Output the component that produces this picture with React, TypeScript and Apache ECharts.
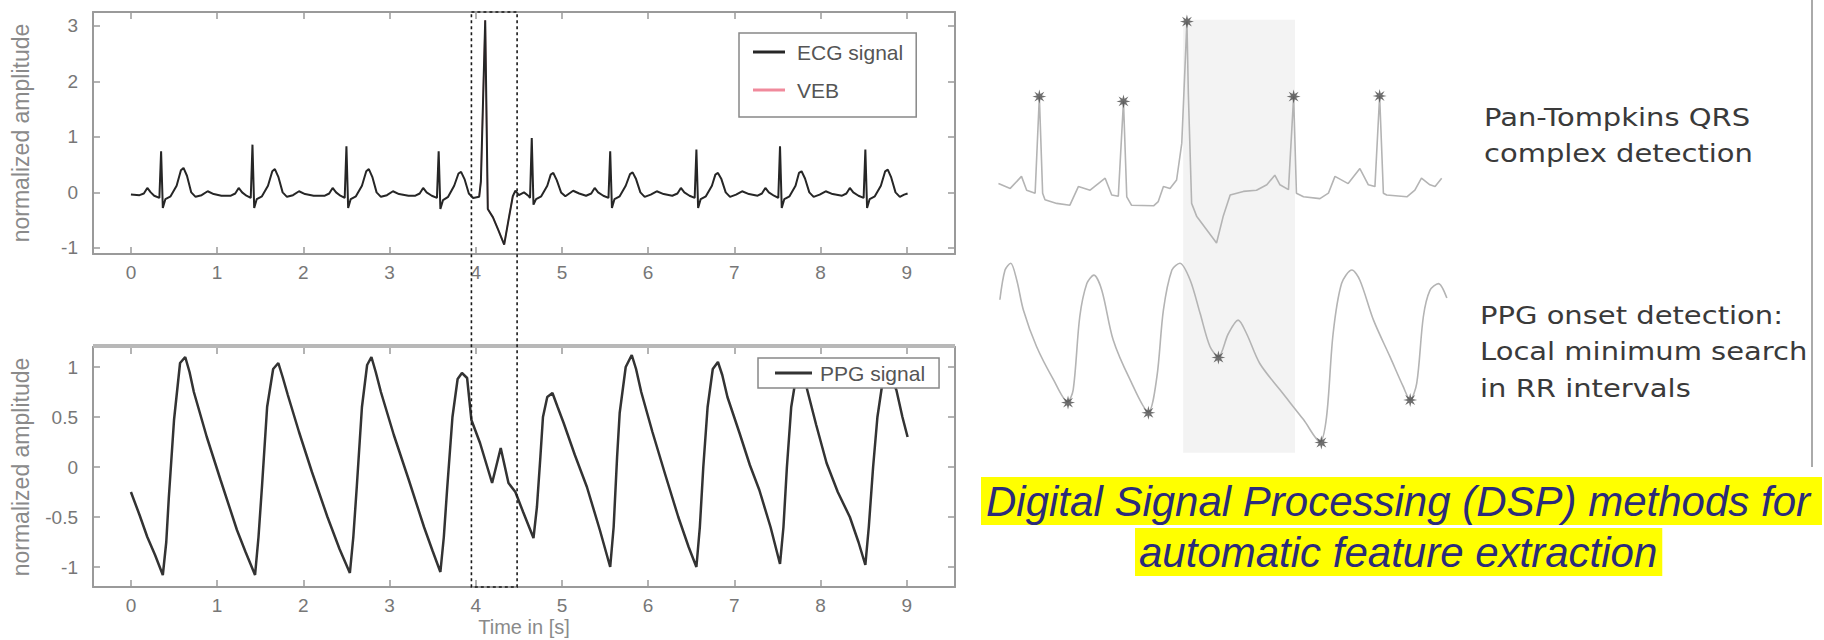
import React, { useEffect, useRef } from "react";
import * as echarts from "echarts";

// ---------- left panel data ----------
const timeTicks = [0, 1, 2, 3, 4, 5, 6, 7, 8, 9];
const timeRange = [-0.44, 9.56];
const ecgTicks = [-1, 0, 1, 2, 3];
const ecgRange = [-1.11, 3.25];
const ppgTicks = [-1, -0.5, 0, 0.5, 1];
const ppgRange = [-1.2, 1.2];

const ecgSignal: [number, number][] = [
  [0.0, -0.04], [0.1, -0.05], [0.15, -0.02], [0.19, 0.08], [0.23, 0.0], [0.27, -0.06], [0.33, -0.1], [0.35, 0.74], [0.37, -0.28], [0.4, -0.12], [0.46, -0.07], [0.53, 0.12], [0.58, 0.4], [0.61, 0.44], [0.65, 0.3], [0.7, 0.0], [0.75, -0.08], [0.82, -0.05], [0.89, 0.02], [0.96, -0.03], [1.05, -0.06],
  [1.16, -0.06], [1.21, -0.02], [1.25, 0.08], [1.29, 0.0], [1.34, -0.06], [1.39, -0.1], [1.41, 0.86], [1.43, -0.28], [1.46, -0.12], [1.52, -0.07], [1.59, 0.12], [1.64, 0.38], [1.67, 0.42], [1.71, 0.28], [1.76, 0.0], [1.81, -0.08], [1.88, -0.05], [1.95, 0.02], [2.02, -0.03], [2.12, -0.06],
  [2.25, -0.06], [2.3, -0.02], [2.34, 0.08], [2.38, 0.0], [2.43, -0.06], [2.48, -0.1], [2.5, 0.83], [2.52, -0.28], [2.55, -0.12], [2.61, -0.07], [2.68, 0.12], [2.73, 0.38], [2.76, 0.42], [2.8, 0.28], [2.85, 0.0], [2.9, -0.08], [2.97, -0.05], [3.04, 0.02], [3.11, -0.03], [3.22, -0.06],
  [3.3, -0.06], [3.35, -0.02], [3.39, 0.08], [3.43, 0.0], [3.49, -0.06], [3.55, -0.1], [3.57, 0.74], [3.59, -0.3], [3.62, -0.14], [3.68, -0.08], [3.75, 0.12], [3.8, 0.34], [3.83, 0.37], [3.87, 0.24], [3.92, -0.02], [3.97, -0.1],
  [4.04, -0.08], [4.06, 0.2], [4.11, 3.1], [4.14, -0.3], [4.2, -0.45], [4.26, -0.67], [4.33, -0.94], [4.38, -0.5], [4.43, -0.07], [4.46, 0.03], [4.5, -0.05], [4.56, 0.0], [4.61, -0.06],
  [4.63, -0.1], [4.65, 0.98], [4.67, -0.22], [4.7, -0.12], [4.76, -0.07], [4.83, 0.12], [4.87, 0.32], [4.9, 0.35], [4.94, 0.22], [4.99, 0.0], [5.04, -0.07], [5.13, 0.03], [5.2, -0.02], [5.28, -0.06],
  [5.34, -0.02], [5.38, 0.08], [5.42, 0.0], [5.48, -0.06], [5.54, -0.1], [5.56, 0.74], [5.58, -0.28], [5.61, -0.12], [5.67, -0.07], [5.74, 0.12], [5.79, 0.33], [5.82, 0.36], [5.86, 0.24], [5.91, 0.0], [5.96, -0.08], [6.03, -0.04], [6.1, 0.02], [6.18, -0.03], [6.28, -0.06],
  [6.34, -0.02], [6.38, 0.08], [6.42, 0.0], [6.48, -0.06], [6.54, -0.1], [6.56, 0.77], [6.58, -0.28], [6.61, -0.12], [6.67, -0.07], [6.74, 0.12], [6.78, 0.32], [6.81, 0.35], [6.85, 0.24], [6.9, 0.0], [6.95, -0.08], [7.02, -0.04], [7.09, 0.02], [7.17, -0.03], [7.27, -0.06],
  [7.32, -0.02], [7.36, 0.08], [7.4, 0.0], [7.46, -0.06], [7.51, -0.1], [7.53, 0.83], [7.55, -0.28], [7.58, -0.12], [7.64, -0.07], [7.71, 0.12], [7.75, 0.35], [7.78, 0.38], [7.82, 0.25], [7.87, 0.0], [7.92, -0.08], [7.99, -0.04], [8.06, 0.02], [8.14, -0.03], [8.25, -0.06],
  [8.3, -0.02], [8.34, 0.08], [8.38, 0.0], [8.44, -0.06], [8.5, -0.1], [8.52, 0.77], [8.54, -0.28], [8.57, -0.12], [8.63, -0.07], [8.7, 0.12], [8.75, 0.38], [8.78, 0.41], [8.82, 0.27], [8.87, 0.0], [8.92, -0.08], [8.97, -0.04], [9.01, -0.02],
];

const vebSegment: [number, number][] = [
  [4.04, -0.08], [4.06, 0.2], [4.11, 3.1], [4.14, -0.3], [4.2, -0.45], [4.26, -0.67], [4.33, -0.94], [4.38, -0.5], [4.43, -0.07],
];

const ppgSignal: [number, number][] = [
  [0.0, -0.25], [0.1, -0.48], [0.19, -0.7], [0.28, -0.88], [0.37, -1.08], [0.41, -0.75], [0.44, -0.3], [0.5, 0.47], [0.57, 1.04], [0.63, 1.1], [0.68, 0.95], [0.73, 0.75], [0.88, 0.3], [1.04, -0.13], [1.23, -0.63], [1.33, -0.85], [1.44, -1.08],
  [1.48, -0.7], [1.52, -0.2], [1.58, 0.6], [1.65, 0.98], [1.71, 1.04], [1.76, 0.9], [1.82, 0.72], [1.95, 0.35], [2.1, -0.05], [2.28, -0.5], [2.42, -0.82], [2.54, -1.06],
  [2.58, -0.7], [2.62, -0.2], [2.68, 0.6], [2.74, 1.02], [2.79, 1.1], [2.84, 0.95], [2.9, 0.75], [3.05, 0.32], [3.22, -0.12], [3.4, -0.6], [3.5, -0.84], [3.59, -1.05],
  [3.63, -0.7], [3.67, -0.2], [3.73, 0.5], [3.79, 0.88], [3.84, 0.94], [3.9, 0.89], [3.95, 0.47], [4.05, 0.24], [4.19, -0.16], [4.29, 0.19], [4.38, -0.16], [4.46, -0.25], [4.55, -0.45], [4.67, -0.71],
  [4.71, -0.4], [4.75, 0.1], [4.78, 0.5], [4.83, 0.7], [4.89, 0.74], [4.95, 0.6], [5.02, 0.44], [5.15, 0.12], [5.29, -0.2], [5.44, -0.63], [5.56, -1.0],
  [5.6, -0.6], [5.64, 0.1], [5.67, 0.54], [5.74, 1.0], [5.81, 1.12], [5.86, 0.98], [5.92, 0.75], [6.05, 0.35], [6.2, -0.08], [6.35, -0.5], [6.47, -0.8], [6.56, -1.0],
  [6.6, -0.6], [6.64, 0.0], [6.69, 0.6], [6.75, 0.98], [6.81, 1.05], [6.86, 0.92], [6.92, 0.7], [7.06, 0.34], [7.18, 0.02], [7.29, -0.23], [7.42, -0.6], [7.53, -0.97],
  [7.57, -0.6], [7.61, 0.0], [7.66, 0.6], [7.72, 0.92], [7.78, 1.0], [7.84, 0.79], [7.95, 0.42], [8.07, 0.04], [8.2, -0.25], [8.34, -0.5], [8.44, -0.75], [8.52, -0.98],
  [8.56, -0.6], [8.61, 0.0], [8.66, 0.5], [8.72, 0.85], [8.79, 0.98], [8.84, 0.85], [8.88, 0.77], [8.95, 0.5], [9.01, 0.3],
];

const focusWindow = [3.95, 4.48];

// ---------- right panel data (arbitrary sample units 0..100) ----------
const rightEcgTrace: [number, number][] = [
  [1.8, 0.19], [4.3, 0.11], [6.7, 0.31], [7.8, 0.08], [9.6, 0.03], [10.5, 1.64], [11.2, 0.03], [11.7, -0.08], [14.2, -0.14], [17.0, -0.17], [18.8, 0.14], [21.3, 0.08], [24.5, 0.28], [25.9, 0.0], [27.3, -0.02], [28.4, 1.56], [29.1, -0.03], [30.1, -0.17], [34.8, -0.18], [35.8, -0.11], [36.9, 0.14], [38.3, 0.11], [39.7, 0.25], [40.8, 0.86], [41.9, 2.89], [42.2, 1.69], [42.9, -0.14], [44.0, -0.36], [46.1, -0.58], [48.2, -0.8], [49.6, -0.36], [51.1, 0.0], [53.9, 0.06], [56.7, 0.08], [58.9, 0.17], [60.6, 0.33], [61.7, 0.17], [63.5, 0.09], [64.6, 1.64], [65.2, 0.03], [66.7, -0.03], [70.2, -0.06], [72.0, 0.03], [73.4, 0.31], [76.2, 0.19], [78.7, 0.44], [80.5, 0.17], [81.9, 0.14], [82.9, 1.65], [83.7, 0.03], [84.4, 0.0], [88.7, -0.03], [90.4, 0.08], [91.8, 0.28], [93.6, 0.17], [94.7, 0.14], [96.1, 0.28],
];
const rightEcgPeaks: [number, number][] = [
  [10.5, 1.64], [28.4, 1.56], [41.9, 2.89], [64.6, 1.64], [82.9, 1.65],
];
const rightPpgTrace: [number, number][] = [
  [2.1, 0.65], [3.2, 1.0], [4.4, 1.08], [5.7, 0.88], [7.1, 0.53], [9.9, 0.1], [13.5, -0.29], [16.5, -0.55], [17.7, -0.41], [19.1, 0.45], [20.6, 0.84], [22.1, 0.94], [23.8, 0.76], [26.2, 0.18], [29.8, -0.29], [33.7, -0.67], [35.5, -0.26], [36.9, 0.53], [38.7, 1.0], [40.4, 1.08], [42.6, 0.88], [44.7, 0.49], [46.8, 0.1], [48.6, -0.02], [50.7, 0.25], [52.8, 0.41], [54.6, 0.25], [57.4, -0.1], [61.7, -0.41], [66.7, -0.76], [70.2, -1.02], [71.6, -0.73], [73.0, 0.25], [74.8, 0.84], [77.0, 1.0], [78.7, 0.88], [81.6, 0.41], [85.1, -0.02], [87.9, -0.37], [89.4, -0.53], [90.8, -0.33], [92.2, 0.45], [93.6, 0.76], [95.4, 0.84], [97.2, 0.67],
];
const rightPpgOnsets: [number, number][] = [
  [16.6, -0.56], [33.7, -0.68], [48.6, -0.03], [70.5, -1.03], [89.4, -0.53],
];
const shadedWindow = [41.1, 64.9];
const shadedTopEcg = 2.92;
const shadedBottomPpg = -1.15;

const qrsLabel = ["Pan-Tompkins QRS", "complex detection"];
const ppgLabel = ["PPG onset detection:", "Local minimum search", "in RR intervals"];
const titleLines = ["Digital Signal Processing (DSP) methods for", "automatic feature extraction"];

const ASTERISK =
  "path://M10 0 L3.7 1.53 L7.07 7.07 L1.53 3.7 L0 10 L-1.53 3.7 L-7.07 7.07 L-3.7 1.53 L-10 0 L-3.7 -1.53 L-7.07 -7.07 L-1.53 -3.7 L0 -10 L1.53 -3.7 L7.07 -7.07 L3.7 -1.53 Z";

const AXIS_COLOR = "#9a9a9a";
const LABEL_FONT = "Liberation Sans";

function frameAxis(kind: "x" | "y", grid: number, pos: string, range: number[], ticks: number[], withLabels: boolean, extra: any = {}) {
  return {
    type: "value",
    gridIndex: grid,
    position: pos,
    min: range[0],
    max: range[1],
    axisLine: { show: true, onZero: false, lineStyle: { color: AXIS_COLOR, width: 2 } },
    axisTick: { show: true, inside: true, length: 7, customValues: ticks, lineStyle: { color: AXIS_COLOR, width: 1.5 } },
    axisLabel: {
      show: withLabels,
      customValues: ticks,
      color: "#777",
      fontSize: 19,
      fontFamily: LABEL_FONT,
      margin: kind === "x" ? 9 : 15,
    },
    splitLine: { show: false },
    ...extra,
  };
}

function hiddenAxis(grid: number, range: number[]) {
  return {
    type: "value",
    gridIndex: grid,
    min: range[0],
    max: range[1],
    show: false,
    splitLine: { show: false },
  };
}

export default function App() {
  const ref = useRef<HTMLDivElement>(null);

  useEffect(() => {
    const chart = echarts.init(ref.current!, null, { renderer: "svg" });
    const yNameStyle = { color: "#8a8a8a", fontSize: 23, fontFamily: LABEL_FONT };
    const xNameStyle = { color: "#8a8a8a", fontSize: 20, fontFamily: LABEL_FONT };

    const option: any = {
      animation: false,
      backgroundColor: "#ffffff",
      grid: [
        { left: 93, top: 12, width: 862, height: 242, outerBoundsMode: "none" },
        { left: 93, top: 347, width: 862, height: 240, outerBoundsMode: "none" },
        { left: 990, top: 15, width: 470, height: 240, outerBoundsMode: "none" },
        { left: 990, top: 253, width: 470, height: 204, outerBoundsMode: "none" },
      ],
      xAxis: [
        frameAxis("x", 0, "bottom", timeRange, timeTicks, true),
        frameAxis("x", 0, "top", timeRange, timeTicks, false),
        frameAxis("x", 1, "bottom", timeRange, timeTicks, true, {
          name: "Time in [s]",
          nameLocation: "middle",
          nameGap: 30,
          nameTextStyle: xNameStyle,
        }),
        frameAxis("x", 1, "top", timeRange, timeTicks, false),
        hiddenAxis(2, [0, 100]),
        hiddenAxis(3, [0, 100]),
      ],
      yAxis: [
        frameAxis("y", 0, "left", ecgRange, ecgTicks, true, {
          name: "normalized amplitude",
          nameLocation: "middle",
          nameGap: 61,
          nameTextStyle: yNameStyle,
        }),
        frameAxis("y", 0, "right", ecgRange, ecgTicks, false),
        frameAxis("y", 1, "left", ppgRange, ppgTicks, true, {
          name: "normalized amplitude",
          nameLocation: "middle",
          nameGap: 61,
          nameTextStyle: yNameStyle,
        }),
        frameAxis("y", 1, "right", ppgRange, ppgTicks, false),
        hiddenAxis(2, [-1, 3]),
        hiddenAxis(3, [-1.2, 1.2]),
      ],
      legend: [
        {
          data: ["ECG signal", "VEB"],
          orient: "vertical",
          left: 739,
          top: 33,
          backgroundColor: "#ffffff",
          borderColor: "#888",
          borderWidth: 1.5,
          borderRadius: 0,
          padding: [7, 13, 15, 14],
          itemGap: 14,
          itemWidth: 32,
          itemHeight: 3,
          icon: "rect",
          selectedMode: false,
          textStyle: { fontSize: 21, color: "#555", fontFamily: LABEL_FONT, lineHeight: 24, padding: [0, 0, 0, 7] },
        },
        {
          data: ["PPG signal"],
          orient: "vertical",
          left: 758,
          top: 358,
          backgroundColor: "#ffffff",
          borderColor: "#888",
          borderWidth: 1.5,
          borderRadius: 0,
          padding: [3, 14, 3, 17],
          itemWidth: 37,
          itemHeight: 3,
          icon: "rect",
          selectedMode: false,
          textStyle: { fontSize: 21, color: "#555", fontFamily: LABEL_FONT, lineHeight: 24, padding: [0, 0, 0, 3] },
        },
      ],
      series: [
        {
          name: "VEB",
          type: "line",
          xAxisIndex: 0,
          yAxisIndex: 0,
          data: vebSegment,
          showSymbol: false,
          z: 1,
          lineStyle: { color: "#f08a9c", width: 1.5 },
          itemStyle: { color: "#f08a9c" },
        },
        {
          name: "ECG signal",
          type: "line",
          xAxisIndex: 0,
          yAxisIndex: 0,
          data: ecgSignal,
          showSymbol: false,
          z: 3,
          lineStyle: { color: "#262626", width: 2 },
          itemStyle: { color: "#262626" },
        },
        {
          name: "PPG signal",
          type: "line",
          xAxisIndex: 2,
          yAxisIndex: 2,
          data: ppgSignal,
          showSymbol: false,
          z: 3,
          lineStyle: { color: "#333333", width: 2.5 },
          itemStyle: { color: "#333333" },
        },
        {
          name: "QRS trace",
          type: "line",
          xAxisIndex: 4,
          yAxisIndex: 4,
          data: rightEcgTrace,
          showSymbol: false,
          lineStyle: { color: "#b4b4b4", width: 1.6 },
        },
        {
          name: "R peaks",
          type: "scatter",
          xAxisIndex: 4,
          yAxisIndex: 4,
          data: rightEcgPeaks,
          symbol: ASTERISK,
          symbolSize: 14,
          z: 4,
          itemStyle: { color: "#4a4a4a" },
        },
        {
          name: "PPG trace",
          type: "line",
          xAxisIndex: 5,
          yAxisIndex: 5,
          data: rightPpgTrace,
          showSymbol: false,
          smooth: 0.3,
          lineStyle: { color: "#b4b4b4", width: 1.6 },
        },
        {
          name: "PPG onsets",
          type: "scatter",
          xAxisIndex: 5,
          yAxisIndex: 5,
          data: rightPpgOnsets,
          symbol: ASTERISK,
          symbolSize: 14,
          z: 4,
          itemStyle: { color: "#4a4a4a" },
        },
      ],
    };
    chart.setOption(option);

    const px = (xi: number, yi: number, v: number[]) =>
      chart.convertToPixel({ xAxisIndex: xi, yAxisIndex: yi } as any, v) as number[];

    const boxTL = px(0, 0, [focusWindow[0], ecgRange[1]]);
    const boxBR = px(2, 2, [focusWindow[1], ppgRange[0]]);
    const ppgTopL = px(2, 2, [timeRange[0], ppgRange[1]]);
    const ppgTopR = px(2, 2, [timeRange[1], ppgRange[1]]);
    const shadeTL = px(4, 4, [shadedWindow[0], shadedTopEcg]);
    const shadeBR = px(5, 5, [shadedWindow[1], shadedBottomPpg]);

    const textStyleRight = {
      fill: "#3a3a3a",
      fontSize: 25,
      fontFamily: "DejaVu Sans",
      textVerticalAlign: "middle",
      verticalAlign: "middle",
      textAlign: "left",
    };

    const graphic: any[] = [
      {
        type: "rect",
        z: -10,
        silent: true,
        shape: { x: shadeTL[0], y: shadeTL[1], width: shadeBR[0] - shadeTL[0], height: shadeBR[1] - shadeTL[1] },
        style: { fill: "#f3f3f3" },
      },
      {
        type: "line",
        z: 5,
        silent: true,
        shape: { x1: ppgTopL[0], y1: ppgTopL[1] - 1, x2: ppgTopR[0], y2: ppgTopR[1] - 1 },
        style: { stroke: "#b8b8b8", lineWidth: 4 },
      },
      {
        type: "rect",
        z: 50,
        silent: true,
        shape: { x: boxTL[0], y: boxTL[1], width: boxBR[0] - boxTL[0], height: boxBR[1] - boxTL[1] },
        style: { fill: "none", stroke: "#1a1a1a", lineWidth: 1.6, lineDash: [3, 3] },
      },
      {
        type: "line",
        silent: true,
        shape: { x1: 1812, y1: 0, x2: 1812, y2: 467 },
        style: { stroke: "#aaaaaa", lineWidth: 2 },
      },
      ...qrsLabel.map((t, i) => ({
        type: "text",
        x: 1484,
        y: 117 + i * 36,
        scaleX: 1.16,
        style: { ...textStyleRight, text: t },
      })),
      ...ppgLabel.map((t, i) => ({
        type: "text",
        x: 1480,
        y: 315 + i * 36.5,
        scaleX: 1.16,
        style: { ...textStyleRight, text: t },
      })),
      {
        type: "text",
        x: 981,
        y: 501,
        style: {
          text: titleLines[0],
          fill: "#2b2b7b",
          fontSize: 42,
          fontStyle: "italic",
          fontFamily: "Liberation Sans",
          backgroundColor: "#ffff00",
          lineHeight: 48,
          padding: [0, 12, 0, 5],
          textAlign: "left",
          textVerticalAlign: "middle",
          verticalAlign: "middle",
        },
      },
      {
        type: "text",
        x: 1135,
        y: 552,
        style: {
          text: titleLines[1],
          fill: "#2b2b7b",
          fontSize: 42,
          fontStyle: "italic",
          fontFamily: "Liberation Sans",
          backgroundColor: "#ffff00",
          lineHeight: 48,
          padding: [0, 5, 0, 4],
          textAlign: "left",
          textVerticalAlign: "middle",
          verticalAlign: "middle",
        },
      },
    ];
    chart.setOption({ graphic });

    return () => chart.dispose();
  }, []);

  return (
    <div
      ref={ref}
      style={{ position: "fixed", left: 0, top: 0, width: 1824, height: 640, background: "#fff" }}
    />
  );
}
